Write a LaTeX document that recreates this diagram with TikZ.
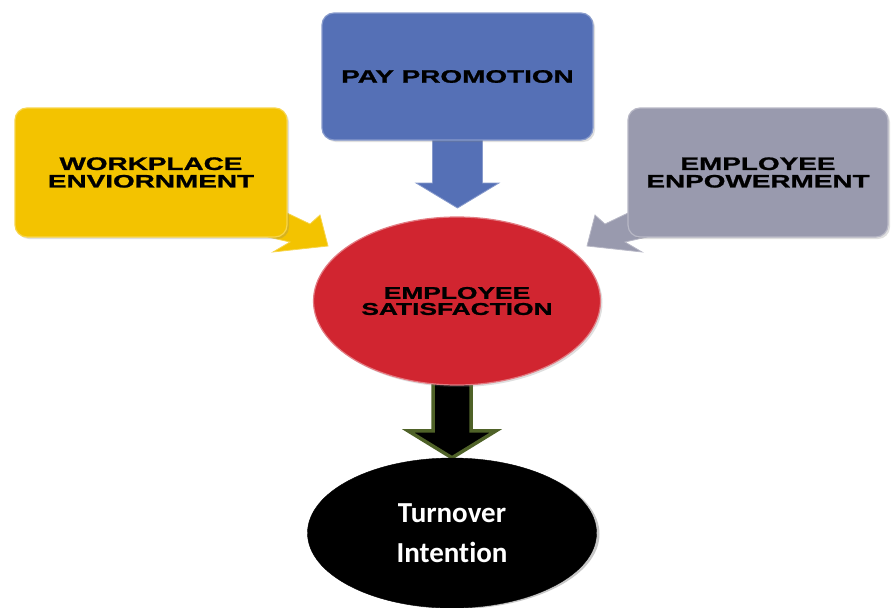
\documentclass[tikz,border=0pt]{standalone}
\usepackage{fontspec}
\setmainfont{Liberation Sans}
\newfontfamily\widefont[FakeStretch=1.55,FakeBold=1.2]{Liberation Sans}
\newfontfamily\califont[Ligatures={NoCommon}]{Carlito}
\usetikzlibrary{shapes.geometric,calc,shadows}
\pgfdeclarelayer{background}
\pgfsetlayers{background,main}
\definecolor{cyel}{RGB}{243,195,0}
\definecolor{cblue}{RGB}{85,112,182}
\definecolor{cgray}{RGB}{153,154,174}
\definecolor{cred}{RGB}{209,37,48}
\definecolor{cgreen}{RGB}{79,98,40}
\tikzset{
  boxnode/.style={rectangle, rounded corners=12pt, inner sep=0pt, align=center,
    font=\widefont\bfseries\fontsize{18}{17.5}\selectfont, text=black,
    drop shadow={opacity=0.25, shadow xshift=2pt, shadow yshift=-2pt}},
  pointer/.style={line width=0.8pt},
  ellred/.style={ellipse, inner sep=0pt, align=center, fill=cred, draw=cred!60!white, line width=1.2pt,
    font=\widefont\bfseries\fontsize{17}{16}\selectfont, text=black,
    drop shadow={opacity=0.25, shadow xshift=2pt, shadow yshift=-2pt}},
  ellblack/.style={ellipse, inner sep=0pt, align=center, fill=black, draw=black,
    font=\califont\bfseries\fontsize{29}{40}\selectfont, text=white,
    drop shadow={opacity=0.45, shadow xshift=3pt, shadow yshift=-1pt}},
}
\newcommand\blockarrow[6]{%
  \path (#3) coordinate (ba-e) ($(#3)!#6!(#2)$) coordinate (ba-h) (#2) coordinate (ba-s);
  \filldraw[#1] ($(ba-s)!#4!90:(ba-e)$) -- ($(ba-h)!#4!90:(ba-e)$) -- ($(ba-h)!#5!90:(ba-e)$)
    -- (ba-e) -- ($(ba-h)!#5!-90:(ba-e)$) -- ($(ba-h)!#4!-90:(ba-e)$) -- ($(ba-s)!#4!-90:(ba-e)$) -- cycle;}
\begin{document}
\begin{tikzpicture}[x=1pt,y=-1pt]
\useasboundingbox (0,0) rectangle (892,608);
% callout pointers (behind boxes)
\fill[cyel, draw=cyel!70!white, pointer] (270,214) -- (287,213) -- (310,224) -- (320,215) -- (328,246) -- (273,252) -- (290,242) -- (268,237) -- cycle;
\fill[cgray, draw=cgray!70!white, pointer] (645,214) -- (628,213) -- (605,224) -- (595,215) -- (587,246) -- (642,252) -- (625,242) -- (647,237) -- cycle;
% boxes
\node[boxnode, fill=cyel, draw=cyel!70!white, line width=1.2pt, minimum width=272pt, minimum height=129pt] (work) at (151,172.5) {WORKPLACE\\ENVIORNMENT};
\node[boxnode, fill=cblue, draw=cblue!70!white, line width=1.2pt, minimum width=271pt, minimum height=127pt] (pay) at (457.5,76.5) {PAY PROMOTION};
\node[boxnode, fill=cgray, draw=cgray!70!white, line width=1.2pt, minimum width=260pt, minimum height=129pt] (emp) at (758,172.5) {EMPLOYEE\\ENPOWERMENT};
% ellipses
\node[ellred, minimum width=287pt, minimum height=168pt] (sat) at (457,301) {EMPLOYEE\\SATISFACTION};
\node[ellblack, minimum width=289pt, minimum height=150pt] (turn) at (452,533) {Turnover\\Intention};
% arrows
\coordinate (payTip) at (457.5,208);
\coordinate (a2s) at ($(sat.south -| turn.north)+(0,-6)$);
\begin{pgfonlayer}{background}
\blockarrow{fill=cblue, draw=cblue!70!white, line width=0.8pt}{$(pay.south)+(0,-6)$}{payTip}{25pt}{41.5pt}{25pt}
\blockarrow{fill=black, draw=cgreen, line width=3.5pt, line join=miter}{a2s}{turn.north}{19pt}{44pt}{27pt}
\end{pgfonlayer}
\end{tikzpicture}
\end{document}
